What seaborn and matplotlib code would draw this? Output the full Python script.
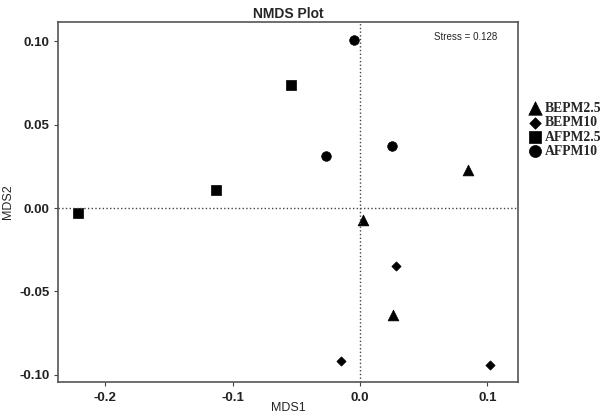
import pandas as pd
import matplotlib.pyplot as plt
import seaborn as sns

# NMDS scores
groups = ['BEPM2.5', 'BEPM10', 'AFPM2.5', 'AFPM10']
bepm25_x = [0.085, 0.002, 0.026]
bepm25_y = [0.023, -0.007, -0.064]
bepm10_x = [0.028, -0.015, 0.102]
bepm10_y = [-0.035, -0.092, -0.094]
afpm25_x = [-0.221, -0.113, -0.054]
afpm25_y = [-0.003, 0.011, 0.074]
afpm10_x = [-0.005, -0.027, 0.025]
afpm10_y = [0.101, 0.031, 0.037]
stress = 0.128

df = pd.concat([
    pd.DataFrame({'MDS1': bepm25_x, 'MDS2': bepm25_y, 'group': 'BEPM2.5'}),
    pd.DataFrame({'MDS1': bepm10_x, 'MDS2': bepm10_y, 'group': 'BEPM10'}),
    pd.DataFrame({'MDS1': afpm25_x, 'MDS2': afpm25_y, 'group': 'AFPM2.5'}),
    pd.DataFrame({'MDS1': afpm10_x, 'MDS2': afpm10_y, 'group': 'AFPM10'}),
], ignore_index=True)

markers = {'BEPM2.5': '^', 'BEPM10': 'D', 'AFPM2.5': 's', 'AFPM10': 'o'}
sizes = {'BEPM2.5': 60, 'BEPM10': 22, 'AFPM2.5': 48, 'AFPM10': 48}

sns.set_style('white')
plt.rcParams['font.family'] = ['Liberation Sans', 'DejaVu Sans']

fig = plt.figure(figsize=(6.03, 4.13), dpi=100)
ax = fig.add_axes([58 / 603, 31 / 413, 460 / 603, 360 / 413])

for g in groups:
    sub = df[df['group'] == g]
    sns.scatterplot(data=sub, x='MDS1', y='MDS2', marker=markers[g], s=sizes[g],
                    color='black', edgecolor='black', linewidth=0.5, label=g, ax=ax)

# reference lines through the origin
ax.axhline(0, color='#444444', linestyle=':', linewidth=1)
ax.axvline(0, color='#444444', linestyle=':', linewidth=1)

ax.set_xlim(-0.237, 0.124)
ax.set_ylim(-0.1044, 0.1116)
ax.set_xticks([-0.2, -0.1, 0.0, 0.1])
ax.set_yticks([-0.10, -0.05, 0.00, 0.05, 0.10])
ax.set_xticklabels(['-0.2', '-0.1', '0.0', '0.1'], fontweight='bold', fontsize=9.5, color='#222222')
ax.set_yticklabels(['-0.10', '-0.05', '0.00', '0.05', '0.10'], fontweight='bold', fontsize=9.5, color='#222222')
ax.tick_params(axis='x', length=3, width=0.8, color='#444444', bottom=True, pad=4)
ax.tick_params(axis='y', length=3, width=0.8, color='#444444', left=True, pad=3)

ax.set_xlabel('MDS1', fontsize=9, labelpad=-1)
ax.set_ylabel('MDS2', fontsize=9, labelpad=4)
ax.set_title('NMDS Plot', fontweight='bold', fontsize=10, pad=3)

for side in ax.spines.values():
    side.set_color('#555555')
    side.set_linewidth(1.2)

ax.text(0.954, 0.958, 'Stress = ' + str(stress), transform=ax.transAxes,
        ha='right', va='center', fontsize=7)

leg = ax.legend(loc='center left', bbox_to_anchor=(1.010, 0.70), frameon=False,
                handletextpad=0.2, labelspacing=0.1, borderaxespad=0, handlelength=1.0,
                markerscale=1.25,
                prop={'family': 'Liberation Serif', 'weight': 'bold', 'size': 9.8})

plt.savefig('out.png', dpi=100)
